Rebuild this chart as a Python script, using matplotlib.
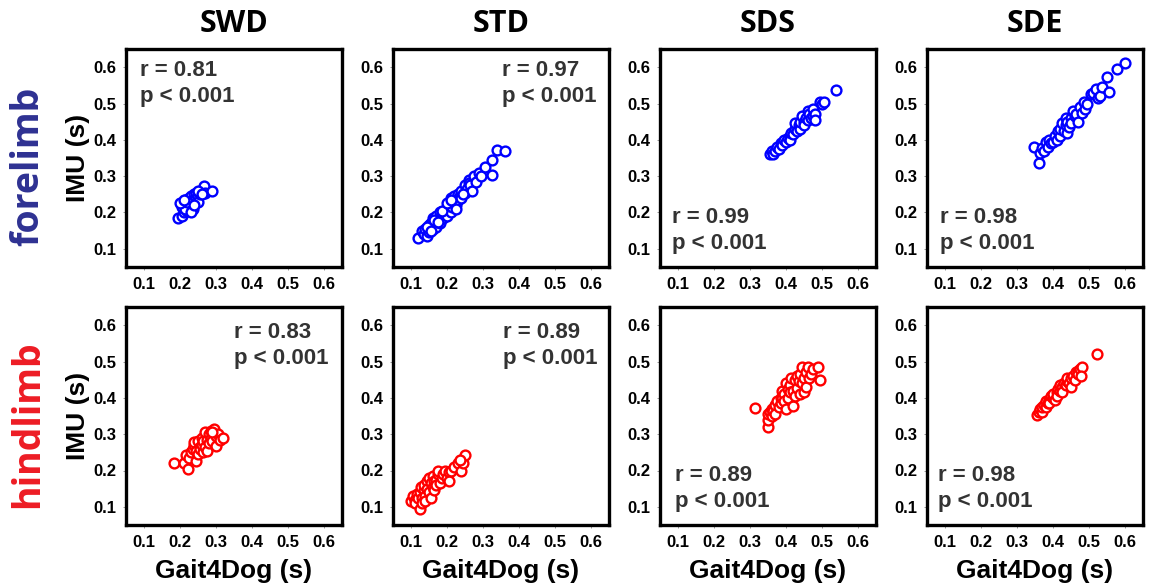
import matplotlib
matplotlib.use("Agg")
import matplotlib.pyplot as plt

# ---- data: (Gait4Dog, IMU) pairs, seconds ----
swd_fore = [(0.195,0.185),(0.205,0.19),(0.21,0.2),(0.205,0.215),(0.21,0.225),(0.215,0.235),(0.22,0.22),
            (0.22,0.205),(0.225,0.215),(0.225,0.24),(0.23,0.23),(0.23,0.245),(0.235,0.225),(0.235,0.21),
            (0.24,0.25),(0.24,0.235),(0.245,0.24),(0.245,0.255),(0.25,0.245),(0.25,0.23),(0.255,0.25),
            (0.26,0.26),(0.267,0.273),(0.27,0.255),(0.289,0.258),(0.215,0.21),(0.22,0.23),(0.23,0.2),
            (0.24,0.22),(0.2,0.225),(0.21,0.235),(0.25,0.26),(0.26,0.25)]
std_fore = [(0.12,0.13),(0.13,0.15),(0.135,0.14),(0.14,0.155),(0.145,0.135),(0.15,0.145),(0.15,0.165),
            (0.155,0.17),(0.16,0.155),(0.16,0.185),(0.165,0.17),(0.17,0.16),(0.17,0.19),(0.175,0.18),
            (0.18,0.2),(0.18,0.17),(0.185,0.19),(0.19,0.205),(0.19,0.185),(0.195,0.195),(0.2,0.21),
            (0.2,0.19),(0.205,0.22),(0.21,0.24),(0.21,0.2),(0.215,0.215),(0.22,0.23),(0.22,0.245),
            (0.225,0.22),(0.23,0.235),(0.23,0.25),(0.235,0.245),(0.24,0.26),(0.24,0.24),(0.25,0.255),
            (0.25,0.275),(0.255,0.265),(0.26,0.29),(0.26,0.28),(0.265,0.275),(0.27,0.26),(0.275,0.3),
            (0.28,0.285),(0.29,0.31),(0.295,0.3),(0.305,0.325),(0.325,0.345),(0.325,0.303),(0.338,0.372),
            (0.36,0.37),(0.145,0.16),(0.155,0.15),(0.165,0.18),(0.175,0.175),(0.185,0.205),(0.2,0.225),
            (0.21,0.235),(0.225,0.21),(0.245,0.25)]
sds_fore = [(0.355,0.36),(0.36,0.37),(0.365,0.362),(0.37,0.37),(0.375,0.38),(0.38,0.375),(0.385,0.39),
            (0.39,0.385),(0.395,0.4),(0.4,0.395),(0.405,0.405),(0.41,0.41),(0.41,0.4),(0.415,0.42),
            (0.42,0.415),(0.425,0.43),(0.425,0.445),(0.43,0.425),(0.435,0.44),(0.44,0.43),(0.44,0.45),
            (0.445,0.465),(0.45,0.45),(0.45,0.44),(0.455,0.46),(0.46,0.48),(0.46,0.455),(0.465,0.47),
            (0.47,0.46),(0.475,0.485),(0.475,0.465),(0.48,0.47),(0.48,0.455),(0.495,0.505),(0.5,0.5),
            (0.505,0.505),(0.54,0.538)]
sde_fore = [(0.348,0.38),(0.362,0.335),(0.365,0.363),(0.37,0.378),(0.375,0.37),(0.38,0.395),(0.385,0.38),
            (0.39,0.4),(0.395,0.39),(0.4,0.395),(0.405,0.41),(0.41,0.4),(0.415,0.425),(0.42,0.41),
            (0.42,0.43),(0.425,0.445),(0.43,0.425),(0.435,0.44),(0.435,0.46),(0.44,0.42),(0.44,0.45),
            (0.445,0.435),(0.45,0.46),(0.45,0.445),(0.455,0.478),(0.46,0.465),(0.465,0.47),(0.47,0.45),
            (0.475,0.49),(0.48,0.475),(0.485,0.505),(0.49,0.485),(0.495,0.5),(0.505,0.525),(0.51,0.53),
            (0.52,0.54),(0.525,0.515),(0.53,0.52),(0.535,0.545),(0.555,0.532),(0.55,0.572),(0.577,0.595),
            (0.6,0.612)]
swd_hind = [(0.183,0.222),(0.21,0.222),(0.222,0.203),(0.218,0.243),(0.225,0.235),(0.23,0.25),(0.235,0.26),
            (0.24,0.27),(0.238,0.278),(0.245,0.226),(0.245,0.255),(0.25,0.245),(0.25,0.28),(0.255,0.265),
            (0.255,0.258),(0.26,0.27),(0.26,0.29),(0.265,0.25),(0.265,0.28),(0.27,0.305),(0.27,0.265),
            (0.275,0.285),(0.275,0.255),(0.28,0.3),(0.28,0.275),(0.285,0.31),(0.285,0.29),(0.29,0.28),
            (0.295,0.315),(0.3,0.295),(0.3,0.268),(0.305,0.3),(0.31,0.285),(0.32,0.29),(0.29,0.305)]
std_hind = [(0.1,0.115),(0.105,0.13),(0.11,0.12),(0.112,0.11),(0.118,0.135),(0.12,0.125),(0.125,0.14),
            (0.125,0.095),(0.128,0.155),(0.13,0.125),(0.13,0.11),(0.135,0.145),(0.135,0.16),(0.14,0.13),
            (0.14,0.115),(0.145,0.17),(0.145,0.15),(0.15,0.18),(0.15,0.14),(0.155,0.165),(0.155,0.125),
            (0.16,0.185),(0.16,0.155),(0.165,0.17),(0.165,0.145),(0.17,0.175),(0.17,0.16),(0.175,0.19),
            (0.175,0.2),(0.18,0.165),(0.185,0.18),(0.19,0.19),(0.195,0.2),(0.2,0.18),(0.205,0.195),
            (0.205,0.17),(0.21,0.2),(0.22,0.21),(0.23,0.22),(0.24,0.2),(0.245,0.222),(0.25,0.243),(0.235,0.23)]
sds_hind = [(0.315,0.372),(0.35,0.32),(0.35,0.338),(0.35,0.355),(0.355,0.36),(0.36,0.35),(0.36,0.37),
            (0.365,0.365),(0.37,0.38),(0.37,0.355),(0.375,0.39),(0.38,0.375),(0.385,0.4),(0.385,0.385),
            (0.39,0.42),(0.39,0.4),(0.395,0.41),(0.395,0.39),(0.4,0.44),(0.4,0.368),(0.405,0.425),
            (0.405,0.4),(0.41,0.435),(0.41,0.415),(0.415,0.455),(0.42,0.378),(0.42,0.42),(0.425,0.45),
            (0.425,0.405),(0.43,0.428),(0.43,0.46),(0.435,0.445),(0.44,0.465),(0.44,0.41),(0.445,0.486),
            (0.445,0.44),(0.45,0.455),(0.45,0.415),(0.455,0.47),(0.455,0.43),(0.46,0.486),(0.465,0.455),
            (0.47,0.465),(0.475,0.48),(0.49,0.486),(0.495,0.45)]
sde_hind = [(0.355,0.352),(0.36,0.36),(0.365,0.368),(0.37,0.36),(0.37,0.375),(0.375,0.38),(0.38,0.375),
            (0.38,0.39),(0.385,0.385),(0.39,0.395),(0.39,0.385),(0.395,0.405),(0.4,0.4),(0.4,0.41),
            (0.405,0.395),(0.41,0.415),(0.41,0.405),(0.415,0.425),(0.42,0.42),(0.42,0.435),(0.425,0.43),
            (0.425,0.415),(0.43,0.44),(0.435,0.435),(0.44,0.445),(0.44,0.455),(0.445,0.44),(0.45,0.455),
            (0.45,0.43),(0.455,0.46),(0.46,0.45),(0.465,0.47),(0.47,0.475),(0.47,0.465),(0.475,0.48),
            (0.48,0.485),(0.478,0.46),(0.522,0.52)]

columns = ["SWD", "STD", "SDS", "SDE"]
rows = ["forelimb", "hindlimb"]
r_values = [["0.81", "0.97", "0.99", "0.98"],
            ["0.83", "0.89", "0.89", "0.98"]]
ticks = [0.1, 0.2, 0.3, 0.4, 0.5, 0.6]
data = [[swd_fore, std_fore, sds_fore, sde_fore],
        [swd_hind, std_hind, sds_hind, sde_hind]]

point_col = ["#0000ff", "#ff0000"]
row_col = ["#2e3192", "#ed1c24"]
# where the r/p text sits inside each panel (axes fraction), and its anchor
txt_pos = [[(0.065, 0.95, "top"), (0.505, 0.95, "top"), (0.056, 0.06, "bottom"), (0.06, 0.06, "bottom")],
           [(0.50, 0.93, "top"), (0.51, 0.93, "top"), (0.07, 0.06, "bottom"), (0.05, 0.06, "bottom")]]

plt.rcParams['font.family'] = ['Liberation Sans', 'DejaVu Sans']

fig = plt.figure(figsize=(11.53, 5.85), dpi=100)
W, H = 1153., 585.
lefts = [126, 393, 660, 927]
tops = [49, 307]
aw, ah = 216, 218

for i in range(2):
    for j in range(4):
        ax = fig.add_axes([lefts[j] / W, 1 - (tops[i] + ah) / H, aw / W, ah / H])
        xs = [p[0] for p in data[i][j]]
        ys = [p[1] for p in data[i][j]]
        ax.scatter(xs, ys, s=50, facecolors='white', edgecolors=point_col[i], linewidths=1.7, zorder=3)
        ax.set_xlim(0.05, 0.65)
        ax.set_ylim(0.05, 0.65)
        ax.set_xticks(ticks)
        ax.set_yticks(ticks)
        ax.set_xticklabels([f"{t:.1f}" for t in ticks], fontsize=12, fontweight='bold')
        ax.set_yticklabels([f"{t:.1f}" for t in ticks], fontsize=12, fontweight='bold')
        ax.tick_params(length=2, width=0.6, color='#888888', pad=5)
        for s in ax.spines.values():
            s.set_linewidth(2.4)
            s.set_color('black')
        tx, ty, va = txt_pos[i][j]
        ax.text(tx, ty, "r = " + r_values[i][j] + "\np < 0.001", transform=ax.transAxes,
                ha='left', va=va, fontsize=16, fontweight='bold', color='#333333', linespacing=1.3)
        if i == 0:
            ax.set_title(columns[j], fontsize=22, fontweight='bold', family=['Open Sans', 'DejaVu Sans'],
                         pad=12)
        if i == 1:
            ax.set_xlabel("Gait4Dog (s)", fontsize=19, fontweight='bold', labelpad=7)
        if j == 0:
            ax.set_ylabel("IMU (s)", fontsize=19, fontweight='bold', labelpad=2)
            fig.text(28 / W, 1 - (tops[i] + ah / 2 + 8) / H, rows[i], rotation=90, ha='center', va='center',
                     fontsize=27, fontweight='bold', color=row_col[i], family=['Open Sans', 'DejaVu Sans'])

fig.savefig("out.png", dpi=100)
